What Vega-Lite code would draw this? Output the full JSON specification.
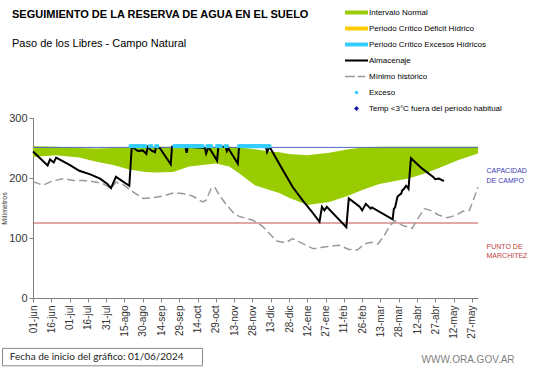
{
  "$schema": "https://vega.github.io/schema/vega-lite/v6.json",
  "width": 445,
  "height": 180,
  "autosize": {"type": "none"},
  "padding": {"left": 33, "top": 118, "right": 63, "bottom": 70},
  "background": "white",
  "config": {
    "view": {"stroke": null},
    "font": "Liberation Sans",
    "axis": {"labelFont": "Liberation Sans", "titleFont": "Liberation Sans", "grid": false},
    "axisX": {"labelOverlap": false, "labelSeparation": 0}
  },
  "title": {
    "text": "SEGUIMIENTO DE LA RESERVA DE AGUA  EN EL SUELO",
    "subtitle": "Paso de los Libres - Campo Natural",
    "anchor": "start",
    "frame": "group",
    "dx": -21,
    "offset": -48,
    "font": "Liberation Sans",
    "fontSize": 11,
    "fontWeight": "bold",
    "color": "#000000",
    "subtitleFont": "Liberation Sans",
    "subtitleFontSize": 11,
    "subtitleColor": "#000000",
    "subtitlePadding": 18
  },
  "datasets": {
    "normal": [
      {"fecha": "2024-06-01", "sup": 253, "inf": 235},
      {"fecha": "2024-06-20", "sup": 252, "inf": 238},
      {"fecha": "2024-07-09", "sup": 250, "inf": 234},
      {"fecha": "2024-07-23", "sup": 249, "inf": 227},
      {"fecha": "2024-08-05", "sup": 250, "inf": 222},
      {"fecha": "2024-08-19", "sup": 251, "inf": 214},
      {"fecha": "2024-09-01", "sup": 252, "inf": 210},
      {"fecha": "2024-09-09", "sup": 252, "inf": 209},
      {"fecha": "2024-09-24", "sup": 252, "inf": 210},
      {"fecha": "2024-10-07", "sup": 252, "inf": 219},
      {"fecha": "2024-10-29", "sup": 252, "inf": 224},
      {"fecha": "2024-11-09", "sup": 252, "inf": 219},
      {"fecha": "2024-11-17", "sup": 251, "inf": 208},
      {"fecha": "2024-11-30", "sup": 248, "inf": 188},
      {"fecha": "2024-12-12", "sup": 244, "inf": 180},
      {"fecha": "2024-12-20", "sup": 243, "inf": 175},
      {"fecha": "2024-12-28", "sup": 240, "inf": 167},
      {"fecha": "2025-01-12", "sup": 238, "inf": 155},
      {"fecha": "2025-01-30", "sup": 242, "inf": 160},
      {"fecha": "2025-02-15", "sup": 248, "inf": 171},
      {"fecha": "2025-02-26", "sup": 251, "inf": 180},
      {"fecha": "2025-03-12", "sup": 252, "inf": 190},
      {"fecha": "2025-03-23", "sup": 252, "inf": 194},
      {"fecha": "2025-04-05", "sup": 252, "inf": 199},
      {"fecha": "2025-04-19", "sup": 252, "inf": 208},
      {"fecha": "2025-05-03", "sup": 252, "inf": 219},
      {"fecha": "2025-05-16", "sup": 252, "inf": 230},
      {"fecha": "2025-06-01", "sup": 252, "inf": 241}
    ],
    "almacenaje": [
      {"fecha": "2024-06-01", "valor": 244},
      {"fecha": "2024-06-13", "valor": 221},
      {"fecha": "2024-06-15", "valor": 231},
      {"fecha": "2024-06-18", "valor": 226},
      {"fecha": "2024-06-20", "valor": 234},
      {"fecha": "2024-07-01", "valor": 222},
      {"fecha": "2024-07-09", "valor": 212},
      {"fecha": "2024-07-18", "valor": 206},
      {"fecha": "2024-07-26", "valor": 199},
      {"fecha": "2024-08-01", "valor": 190},
      {"fecha": "2024-08-04", "valor": 183},
      {"fecha": "2024-08-08", "valor": 202},
      {"fecha": "2024-08-19", "valor": 187},
      {"fecha": "2024-08-21", "valor": 252},
      {"fecha": "2024-08-26", "valor": 245},
      {"fecha": "2024-08-30", "valor": 246},
      {"fecha": "2024-09-02", "valor": 240},
      {"fecha": "2024-09-03", "valor": 252},
      {"fecha": "2024-09-06", "valor": 246},
      {"fecha": "2024-09-09", "valor": 243},
      {"fecha": "2024-09-10", "valor": 252},
      {"fecha": "2024-09-13", "valor": 250},
      {"fecha": "2024-09-22", "valor": 223},
      {"fecha": "2024-09-23", "valor": 252},
      {"fecha": "2024-10-04", "valor": 252},
      {"fecha": "2024-10-05", "valor": 242},
      {"fecha": "2024-10-06", "valor": 252},
      {"fecha": "2024-10-20", "valor": 250},
      {"fecha": "2024-10-21", "valor": 241},
      {"fecha": "2024-10-23", "valor": 252},
      {"fecha": "2024-10-30", "valor": 229},
      {"fecha": "2024-10-31", "valor": 252},
      {"fecha": "2024-11-06", "valor": 252},
      {"fecha": "2024-11-07", "valor": 245},
      {"fecha": "2024-11-08", "valor": 250},
      {"fecha": "2024-11-16", "valor": 224},
      {"fecha": "2024-11-17", "valor": 252},
      {"fecha": "2024-12-09", "valor": 252},
      {"fecha": "2024-12-10", "valor": 243},
      {"fecha": "2024-12-12", "valor": 252},
      {"fecha": "2024-12-23", "valor": 213},
      {"fecha": "2024-12-31", "valor": 185},
      {"fecha": "2025-01-08", "valor": 163},
      {"fecha": "2025-01-16", "valor": 143},
      {"fecha": "2025-01-22", "valor": 127},
      {"fecha": "2025-01-24", "valor": 152},
      {"fecha": "2025-01-26", "valor": 146},
      {"fecha": "2025-01-28", "valor": 152},
      {"fecha": "2025-02-13", "valor": 118},
      {"fecha": "2025-02-15", "valor": 166},
      {"fecha": "2025-02-24", "valor": 152},
      {"fecha": "2025-02-26", "valor": 146},
      {"fecha": "2025-03-01", "valor": 157},
      {"fecha": "2025-03-05", "valor": 149},
      {"fecha": "2025-03-06", "valor": 151},
      {"fecha": "2025-03-23", "valor": 131},
      {"fecha": "2025-03-24", "valor": 149},
      {"fecha": "2025-03-25", "valor": 151},
      {"fecha": "2025-03-27", "valor": 169},
      {"fecha": "2025-03-28", "valor": 171},
      {"fecha": "2025-03-30", "valor": 174},
      {"fecha": "2025-03-31", "valor": 180},
      {"fecha": "2025-04-01", "valor": 181},
      {"fecha": "2025-04-03", "valor": 187},
      {"fecha": "2025-04-04", "valor": 185},
      {"fecha": "2025-04-05", "valor": 182},
      {"fecha": "2025-04-07", "valor": 233},
      {"fecha": "2025-04-16", "valor": 216},
      {"fecha": "2025-04-25", "valor": 202},
      {"fecha": "2025-04-27", "valor": 198},
      {"fecha": "2025-04-30", "valor": 199},
      {"fecha": "2025-05-02", "valor": 197},
      {"fecha": "2025-05-04", "valor": 195}
    ],
    "minimo": [
      {"fecha": "2024-06-01", "valor": 194},
      {"fecha": "2024-06-09", "valor": 188},
      {"fecha": "2024-06-17", "valor": 195},
      {"fecha": "2024-06-26", "valor": 199},
      {"fecha": "2024-07-04", "valor": 196},
      {"fecha": "2024-07-12", "valor": 196},
      {"fecha": "2024-07-20", "valor": 194},
      {"fecha": "2024-07-28", "valor": 191},
      {"fecha": "2024-08-04", "valor": 183},
      {"fecha": "2024-08-08", "valor": 193},
      {"fecha": "2024-08-14", "valor": 189},
      {"fecha": "2024-08-22", "valor": 177},
      {"fecha": "2024-08-30", "valor": 166},
      {"fecha": "2024-09-07", "valor": 167},
      {"fecha": "2024-09-16", "valor": 170},
      {"fecha": "2024-09-24", "valor": 175},
      {"fecha": "2024-10-02", "valor": 174},
      {"fecha": "2024-10-10", "valor": 170},
      {"fecha": "2024-10-18", "valor": 160},
      {"fecha": "2024-10-21", "valor": 163},
      {"fecha": "2024-10-25", "valor": 182},
      {"fecha": "2024-10-28", "valor": 185},
      {"fecha": "2024-11-01", "valor": 171},
      {"fecha": "2024-11-06", "valor": 157},
      {"fecha": "2024-11-12", "valor": 143},
      {"fecha": "2024-11-17", "valor": 136},
      {"fecha": "2024-11-28", "valor": 130},
      {"fecha": "2024-12-06", "valor": 120},
      {"fecha": "2024-12-14", "valor": 103},
      {"fecha": "2024-12-18", "valor": 95},
      {"fecha": "2024-12-25", "valor": 92},
      {"fecha": "2024-12-31", "valor": 99},
      {"fecha": "2025-01-08", "valor": 91},
      {"fecha": "2025-01-17", "valor": 82},
      {"fecha": "2025-01-23", "valor": 84},
      {"fecha": "2025-01-30", "valor": 86},
      {"fecha": "2025-02-07", "valor": 88},
      {"fecha": "2025-02-15", "valor": 81},
      {"fecha": "2025-02-22", "valor": 80},
      {"fecha": "2025-02-28", "valor": 90},
      {"fecha": "2025-03-05", "valor": 93},
      {"fecha": "2025-03-11", "valor": 90},
      {"fecha": "2025-03-16", "valor": 104},
      {"fecha": "2025-03-21", "valor": 121},
      {"fecha": "2025-03-25", "valor": 129},
      {"fecha": "2025-03-31", "valor": 121},
      {"fecha": "2025-04-08", "valor": 116},
      {"fecha": "2025-04-12", "valor": 130},
      {"fecha": "2025-04-18", "valor": 149},
      {"fecha": "2025-04-23", "valor": 146},
      {"fecha": "2025-04-30", "valor": 138},
      {"fecha": "2025-05-07", "valor": 134},
      {"fecha": "2025-05-14", "valor": 138},
      {"fecha": "2025-05-20", "valor": 145},
      {"fecha": "2025-05-25", "valor": 146},
      {"fecha": "2025-05-29", "valor": 168},
      {"fecha": "2025-06-01", "valor": 185}
    ],
    "exceso": [
      {"fecha": "2024-08-20", "nivel": 253}, {"fecha": "2024-08-21", "nivel": 253}, {"fecha": "2024-08-22", "nivel": 253},
      {"fecha": "2024-08-23", "nivel": 253}, {"fecha": "2024-08-24", "nivel": 253}, {"fecha": "2024-08-25", "nivel": 253},
      {"fecha": "2024-08-26", "nivel": 253}, {"fecha": "2024-08-27", "nivel": 253}, {"fecha": "2024-08-28", "nivel": 253},
      {"fecha": "2024-08-30", "nivel": 253}, {"fecha": "2024-08-31", "nivel": 253}, {"fecha": "2024-09-01", "nivel": 253},
      {"fecha": "2024-09-05", "nivel": 253}, {"fecha": "2024-09-06", "nivel": 253},
      {"fecha": "2024-09-10", "nivel": 253}, {"fecha": "2024-09-11", "nivel": 253},
      {"fecha": "2024-09-25", "nivel": 253}, {"fecha": "2024-09-26", "nivel": 253}, {"fecha": "2024-09-27", "nivel": 253},
      {"fecha": "2024-09-28", "nivel": 253}, {"fecha": "2024-09-29", "nivel": 253}, {"fecha": "2024-09-30", "nivel": 253},
      {"fecha": "2024-10-01", "nivel": 253}, {"fecha": "2024-10-02", "nivel": 253}, {"fecha": "2024-10-03", "nivel": 253},
      {"fecha": "2024-10-04", "nivel": 253}, {"fecha": "2024-10-05", "nivel": 253}, {"fecha": "2024-10-06", "nivel": 253},
      {"fecha": "2024-10-07", "nivel": 253}, {"fecha": "2024-10-08", "nivel": 253}, {"fecha": "2024-10-09", "nivel": 253},
      {"fecha": "2024-10-10", "nivel": 253}, {"fecha": "2024-10-11", "nivel": 253}, {"fecha": "2024-10-12", "nivel": 253},
      {"fecha": "2024-10-13", "nivel": 253}, {"fecha": "2024-10-14", "nivel": 253}, {"fecha": "2024-10-15", "nivel": 253},
      {"fecha": "2024-10-16", "nivel": 253}, {"fecha": "2024-10-17", "nivel": 253}, {"fecha": "2024-10-18", "nivel": 253},
      {"fecha": "2024-10-22", "nivel": 253}, {"fecha": "2024-10-23", "nivel": 253}, {"fecha": "2024-10-24", "nivel": 253},
      {"fecha": "2024-10-25", "nivel": 253},
      {"fecha": "2024-10-30", "nivel": 253}, {"fecha": "2024-10-31", "nivel": 253}, {"fecha": "2024-11-01", "nivel": 253},
      {"fecha": "2024-11-02", "nivel": 253},
      {"fecha": "2024-11-06", "nivel": 253}, {"fecha": "2024-11-07", "nivel": 253},
      {"fecha": "2024-11-17", "nivel": 253}, {"fecha": "2024-11-18", "nivel": 253}, {"fecha": "2024-11-19", "nivel": 253},
      {"fecha": "2024-11-20", "nivel": 253}, {"fecha": "2024-11-21", "nivel": 253}, {"fecha": "2024-11-22", "nivel": 253},
      {"fecha": "2024-11-23", "nivel": 253}, {"fecha": "2024-11-24", "nivel": 253}, {"fecha": "2024-11-25", "nivel": 253},
      {"fecha": "2024-11-26", "nivel": 253}, {"fecha": "2024-11-27", "nivel": 253}, {"fecha": "2024-11-28", "nivel": 253},
      {"fecha": "2024-11-29", "nivel": 253}, {"fecha": "2024-11-30", "nivel": 253}, {"fecha": "2024-12-01", "nivel": 253},
      {"fecha": "2024-12-02", "nivel": 253}, {"fecha": "2024-12-03", "nivel": 253}, {"fecha": "2024-12-04", "nivel": 253},
      {"fecha": "2024-12-05", "nivel": 253}, {"fecha": "2024-12-06", "nivel": 253}, {"fecha": "2024-12-07", "nivel": 253},
      {"fecha": "2024-12-08", "nivel": 253}, {"fecha": "2024-12-09", "nivel": 253}, {"fecha": "2024-12-10", "nivel": 253},
      {"fecha": "2024-12-11", "nivel": 253}, {"fecha": "2024-12-12", "nivel": 253}
    ],
    "umbrales": [
      {"umbral": "Capacidad de campo", "valor": 251},
      {"umbral": "Punto de marchitez", "valor": 125}
    ],
    "leyenda": [
      {"serie": "Intervalo Normal"},
      {"serie": "Periodo Crítico Déficit Hídrico"},
      {"serie": "Periodo Crítico Excesos Hídricos"},
      {"serie": "Almacenaje"},
      {"serie": "Mínimo histórico"},
      {"serie": "Exceso"},
      {"serie": "Temp <3°C fuera del período habitual"}
    ]
  },
  "layer": [
    {
      "data": {"name": "normal"},
      "mark": {"type": "area", "color": "#99CC00", "opacity": 1},
      "encoding": {
        "x": {
          "field": "fecha", "type": "temporal",
          "scale": {"type": "utc", "domain": [{"year": 2024, "month": 6, "date": 1, "utc": true}, {"year": 2025, "month": 6, "date": 1, "utc": true}]},
          "axis": {
            "title": null,
            "tickCount": 40,
            "values": [
              {"year": 2024, "month": 6, "date": 1, "utc": true},
              {"year": 2024, "month": 6, "date": 16, "utc": true},
              {"year": 2024, "month": 7, "date": 1, "utc": true},
              {"year": 2024, "month": 7, "date": 16, "utc": true},
              {"year": 2024, "month": 7, "date": 31, "utc": true},
              {"year": 2024, "month": 8, "date": 15, "utc": true},
              {"year": 2024, "month": 8, "date": 30, "utc": true},
              {"year": 2024, "month": 9, "date": 14, "utc": true},
              {"year": 2024, "month": 9, "date": 29, "utc": true},
              {"year": 2024, "month": 10, "date": 14, "utc": true},
              {"year": 2024, "month": 10, "date": 29, "utc": true},
              {"year": 2024, "month": 11, "date": 13, "utc": true},
              {"year": 2024, "month": 11, "date": 28, "utc": true},
              {"year": 2024, "month": 12, "date": 13, "utc": true},
              {"year": 2024, "month": 12, "date": 28, "utc": true},
              {"year": 2025, "month": 1, "date": 12, "utc": true},
              {"year": 2025, "month": 1, "date": 27, "utc": true},
              {"year": 2025, "month": 2, "date": 11, "utc": true},
              {"year": 2025, "month": 2, "date": 26, "utc": true},
              {"year": 2025, "month": 3, "date": 13, "utc": true},
              {"year": 2025, "month": 3, "date": 28, "utc": true},
              {"year": 2025, "month": 4, "date": 12, "utc": true},
              {"year": 2025, "month": 4, "date": 27, "utc": true},
              {"year": 2025, "month": 5, "date": 12, "utc": true},
              {"year": 2025, "month": 5, "date": 27, "utc": true}
            ],
            "labelExpr": "utcFormat(datum.value, '%d') + '-' + ['ene','feb','mar','abr','may','jun','jul','ago','sep','oct','nov','dic'][utcmonth(datum.value)]",
            "labelAngle": 270,
            "labelFontSize": 10,
            "labelColor": "#333333",
            "labelPadding": 3,
            "labelOverlap": false,
            "labelSeparation": 0,
            "domainColor": "#808080",
            "tickColor": "#808080",
            "tickSize": 4
          }
        },
        "y": {
          "field": "sup", "type": "quantitative",
          "scale": {"domain": [0, 300], "nice": false, "zero": false},
          "axis": {
            "title": "Milímetros",
            "titleFontSize": 7,
            "titleFontWeight": "normal",
            "titleColor": "#333333",
            "titlePadding": 1,
            "values": [0, 50, 100, 150, 200, 250, 300],
            "labelFontSize": 11,
            "labelColor": "#333333",
            "domainColor": "#808080",
            "tickColor": "#808080",
            "tickSize": 4
          }
        },
        "y2": {"field": "inf"}
      }
    },
    {
      "data": {"name": "umbrales"},
      "transform": [{"filter": "datum.umbral == 'Capacidad de campo'"}],
      "mark": {"type": "rule", "color": "#5068C4", "strokeWidth": 1},
      "encoding": {"y": {"field": "valor", "type": "quantitative"}}
    },
    {
      "data": {"name": "umbrales"},
      "transform": [{"filter": "datum.umbral == 'Punto de marchitez'"}],
      "mark": {"type": "rule", "color": "#C0504D", "strokeWidth": 1},
      "encoding": {"y": {"field": "valor", "type": "quantitative"}}
    },
    {
      "data": {"name": "minimo"},
      "mark": {"type": "line", "color": "#999999", "strokeWidth": 1.5, "strokeDash": [8, 4]},
      "encoding": {
        "x": {"field": "fecha", "type": "temporal"},
        "y": {"field": "valor", "type": "quantitative"}
      }
    },
    {
      "data": {"name": "almacenaje"},
      "mark": {"type": "line", "color": "#000000", "strokeWidth": 2},
      "encoding": {
        "x": {"field": "fecha", "type": "temporal"},
        "y": {"field": "valor", "type": "quantitative"}
      }
    },
    {
      "data": {"name": "exceso"},
      "mark": {"type": "square", "color": "#33CCFF", "size": 14, "opacity": 1, "filled": true},
      "encoding": {
        "x": {"field": "fecha", "type": "temporal"},
        "y": {"field": "nivel", "type": "quantitative"}
      }
    },
    {
      "data": {"name": "leyenda"},
      "transform": [{"filter": "false"}],
      "mark": {"type": "point", "filled": true, "opacity": 1},
      "encoding": {
        "color": {
          "field": "serie", "type": "nominal",
          "scale": {
            "domain": ["Intervalo Normal", "Periodo Crítico Déficit Hídrico", "Periodo Crítico Excesos Hídricos", "Almacenaje", "Mínimo histórico", "Exceso", "Temp <3°C fuera del período habitual"],
            "range": ["#99CC00", "#FFCC00", "#33CCFF", "#000000", "#999999", "#33CCFF", "#1A1AA6"]
          },
          "legend": {
            "orient": "none", "legendX": 312, "legendY": -117, "title": null,
            "labelFont": "Liberation Sans", "labelFontSize": 8, "labelColor": "#000000",
            "symbolSize": 529, "symbolStrokeWidth": 0, "symbolOpacity": 1,
            "labelOffset": 1, "rowPadding": 0, "padding": 0, "labelLimit": 200
          }
        },
        "shape": {
          "field": "serie", "type": "nominal",
          "scale": {
            "domain": ["Intervalo Normal", "Periodo Crítico Déficit Hídrico", "Periodo Crítico Excesos Hídricos", "Almacenaje", "Mínimo histórico", "Exceso", "Temp <3°C fuera del período habitual"],
            "range": [
              "M-1,-0.17H1V0.17H-1Z",
              "M-1,-0.17H1V0.17H-1Z",
              "M-1,-0.17H1V0.17H-1Z",
              "M-1,-0.09H1V0.09H-1Z",
              "M-1,-0.07H-0.15V0.07H-1Z M0.1,-0.07H0.75V0.07H0.1Z",
              "M-0.15,0A0.15,0.15,0,1,1,0.15,0A0.15,0.15,0,1,1,-0.15,0Z",
              "M0,-0.22L0.22,0L0,0.22L-0.22,0Z"
            ]
          },
          "legend": {
            "orient": "none", "legendX": 312, "legendY": -117, "title": null,
            "labelFont": "Liberation Sans", "labelFontSize": 8, "labelColor": "#000000",
            "symbolSize": 529, "symbolStrokeWidth": 0, "symbolOpacity": 1,
            "labelOffset": 1, "rowPadding": 0, "padding": 0, "labelLimit": 200
          }
        }
      }
    },
    {
      "data": {"values": [{"etiqueta": ["CAPACIDAD", "DE  CAMPO"]}]},
      "mark": {"type": "text", "align": "left", "baseline": "top", "fontSize": 7, "lineHeight": 10, "color": "#3C3CB4", "font": "Liberation Sans"},
      "encoding": {
        "x": {"datum": {"year": 2025, "month": 6, "date": 8, "utc": true}, "type": "temporal"},
        "y": {"datum": 219, "type": "quantitative"},
        "text": {"field": "etiqueta"}
      }
    },
    {
      "data": {"values": [{"etiqueta": ["PUNTO  DE", "MARCHITEZ"]}]},
      "mark": {"type": "text", "align": "left", "baseline": "top", "fontSize": 7, "lineHeight": 9, "color": "#C04040", "font": "Liberation Sans"},
      "encoding": {
        "x": {"datum": {"year": 2025, "month": 6, "date": 8, "utc": true}, "type": "temporal"},
        "y": {"datum": 91, "type": "quantitative"},
        "text": {"field": "etiqueta"}
      }
    },
    {
      "data": {"values": [{"etiqueta": "Fecha de inicio del gráfico:  01/06/2024"}]},
      "mark": {"type": "rect", "fill": "white", "stroke": "#888888", "strokeWidth": 1},
      "encoding": {
        "x": {"datum": {"year": 2024, "month": 5, "date": 7, "utc": true}, "type": "temporal"},
        "x2": {"datum": {"year": 2024, "month": 10, "date": 18, "utc": true}},
        "y": {"datum": -84, "type": "quantitative"},
        "y2": {"datum": -113}
      }
    },
    {
      "data": {"values": [{"etiqueta": "Fecha de inicio del gráfico:  01/06/2024"}]},
      "mark": {"type": "text", "align": "left", "baseline": "middle", "fontSize": 10, "color": "#222222", "font": "Lato"},
      "encoding": {
        "x": {"datum": {"year": 2024, "month": 5, "date": 13, "utc": true}, "type": "temporal"},
        "y": {"datum": -99, "type": "quantitative"},
        "text": {"field": "etiqueta"}
      }
    },
    {
      "data": {"values": [{"etiqueta": "WWW.ORA.GOV.AR"}]},
      "mark": {"type": "text", "align": "right", "baseline": "middle", "fontSize": 10, "color": "#7F7F7F", "font": "Liberation Sans"},
      "encoding": {
        "x": {"datum": {"year": 2025, "month": 7, "date": 1, "utc": true}, "type": "temporal"},
        "y": {"datum": -104, "type": "quantitative"},
        "text": {"field": "etiqueta"}
      }
    }
  ]
}
